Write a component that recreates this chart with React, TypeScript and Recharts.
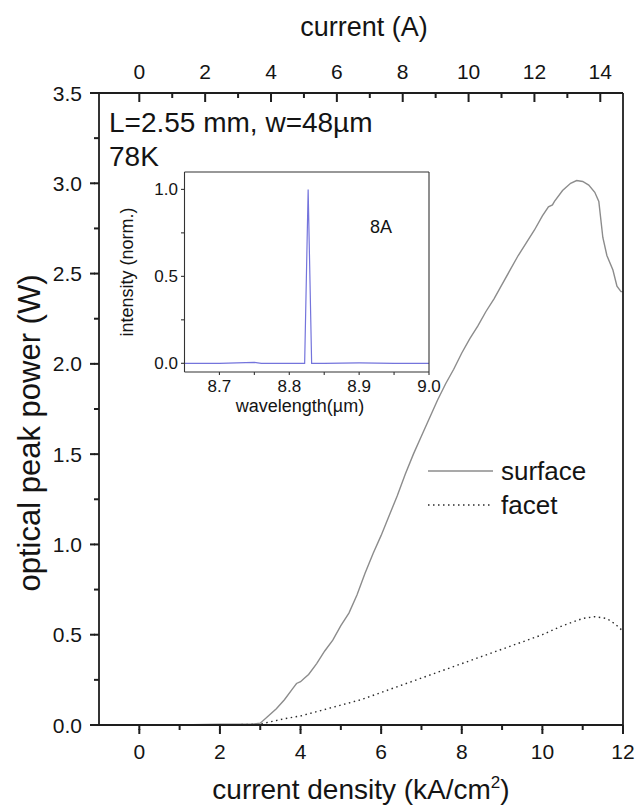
import { LineChart, Line, XAxis, YAxis } from "recharts";

// main plot: surface / facet emission vs current density
const surfaceDensity = [0.3, 1, 2, 2.8, 3.0, 3.2, 3.4, 3.6, 3.8, 3.9, 4.0, 4.1, 4.2, 4.4, 4.6, 4.8, 5.0, 5.2, 5.4, 5.6, 5.8, 6.0, 6.2, 6.4, 6.6, 6.8, 7.0, 7.2, 7.4, 7.6, 7.8, 8.0, 8.2, 8.4, 8.6, 8.8, 9.0, 9.2, 9.4, 9.6, 9.8, 10.0, 10.15, 10.25, 10.3, 10.5, 10.7, 10.85, 11.0, 11.15, 11.3, 11.4, 11.5, 11.6, 11.75, 11.85, 11.95, 12];
const surfacePower = [0, 0, 0.005, 0.005, 0.01, 0.05, 0.09, 0.14, 0.2, 0.23, 0.24, 0.26, 0.28, 0.34, 0.41, 0.47, 0.55, 0.62, 0.72, 0.84, 0.95, 1.05, 1.16, 1.27, 1.39, 1.5, 1.6, 1.7, 1.8, 1.89, 1.97, 2.06, 2.14, 2.21, 2.29, 2.36, 2.44, 2.52, 2.6, 2.67, 2.74, 2.82, 2.87, 2.88, 2.9, 2.96, 3.0, 3.015, 3.01, 2.99, 2.95, 2.9, 2.7, 2.6, 2.52, 2.43, 2.4, 2.4];

const facetDensity = [0.3, 1, 2, 3, 3.3, 3.6, 4, 4.5, 5, 5.5, 6, 6.5, 7, 7.5, 8, 8.5, 9, 9.5, 10, 10.5, 11, 11.3, 11.6, 11.8, 12];
const facetPower = [0, 0, 0, 0.005, 0.02, 0.035, 0.05, 0.08, 0.11, 0.14, 0.18, 0.22, 0.26, 0.3, 0.34, 0.38, 0.42, 0.46, 0.5, 0.55, 0.59, 0.6, 0.59, 0.56, 0.52];

const densityTicks = [0, 1, 2, 3, 4, 5, 6, 7, 8, 9, 10, 11, 12];
const currentTicks = [0, 1, 2, 3, 4, 5, 6, 7, 8, 9, 10, 11, 12, 13, 14];
const powerTicks = [0, 0.25, 0.5, 0.75, 1, 1.25, 1.5, 1.75, 2, 2.25, 2.5, 2.75, 3, 3.25, 3.5];
const densityDomain = [-1, 12];
const currentDomain = [-1.224, 14.69]; // same span, scaled by the ridge area
const powerDomain = [0, 3.5];

// inset: spectrum at 8A
const wavelength = [8.65, 8.7, 8.75, 8.76, 8.8, 8.822, 8.827, 8.832, 8.85, 8.9, 8.95, 9.0];
const intensity = [0, 0, 0.005, 0, 0, 0, 1.0, 0, 0, 0.002, 0, 0];
const wavelengthTicks = [8.7, 8.75, 8.8, 8.85, 8.9, 8.95, 9.0];
const intensityTicks = [0, 0.25, 0.5, 0.75, 1];

const surfaceData = surfaceDensity.map((x, i) => ({ x, p: surfacePower[i] }));
const facetData = facetDensity.map((x, i) => ({ x, p: facetPower[i] }));
const spectrumData = wavelength.map((x, i) => ({ x, v: intensity[i] }));

const FONT = "'Liberation Sans', Arial, sans-serif";
const INK = "#141414";
const AXIS = { stroke: "#1e1e1e", strokeWidth: 1.8 };
const TICK = { stroke: "#1e1e1e", strokeWidth: 2 };
const INSET_AXIS = { stroke: "#333", strokeWidth: 1.1 };

const isMultiple = (v: number, step: number) => Math.abs(v / step - Math.round(v / step)) < 1e-6;

// built-in tick lines are 5px (minor); majors get a 4px extension + label
const BottomTick = (props: any) => {
  const { x, y, payload } = props;
  if (payload.value % 2 !== 0) return <g />;
  return (
    <g>
      <rect x={x - 1} y={y - 1} width={2} height={5} fill="#1e1e1e" />
      <text x={x} y={y + 29} textAnchor="middle" fontSize={21} fontFamily={FONT} fill={INK}>
        {payload.value}
      </text>
    </g>
  );
};

const LeftTick = (props: any) => {
  const { x, y, payload } = props;
  if (!isMultiple(payload.value, 0.5)) return <g />;
  return (
    <g>
      <rect x={x - 4} y={y - 1} width={5} height={2} fill="#1e1e1e" />
      <text x={x - 12} y={y + 7.5} textAnchor="end" fontSize={21} fontFamily={FONT} fill={INK}>
        {payload.value.toFixed(1)}
      </text>
    </g>
  );
};

// top ticks point into the plot
const TopTick = (props: any) => {
  const { x, y, payload } = props;
  const major = payload.value % 2 === 0;
  return (
    <g>
      <rect x={x - 1} y={y} width={2} height={major ? 9 : 5} fill="#1e1e1e" />
      {major && (
        <text x={x} y={y - 14} textAnchor="middle" fontSize={21} fontFamily={FONT} fill={INK}>
          {payload.value}
        </text>
      )}
    </g>
  );
};

const InsetXTick = (props: any) => {
  const { x, y, payload } = props;
  if (!isMultiple(payload.value, 0.1)) return <g />;
  return (
    <text x={x} y={y + 17} textAnchor="middle" fontSize={17} fontFamily={FONT} fill={INK}>
      {payload.value.toFixed(1)}
    </text>
  );
};

const InsetYTick = (props: any) => {
  const { x, y, payload } = props;
  if (!isMultiple(payload.value, 0.5)) return <g />;
  return (
    <text x={x - 3} y={y + 6} textAnchor="end" fontSize={17} fontFamily={FONT} fill={INK}>
      {payload.value.toFixed(1)}
    </text>
  );
};

export default function App() {
  return (
    <div style={{ position: "absolute", left: 0, top: 0, width: 635, height: 806, background: "#fff" }}>
      <LineChart width={635} height={806} margin={{ top: 43, right: 11, bottom: 21, left: 39 }}>
        <XAxis xAxisId="bottom" dataKey="x" type="number" domain={densityDomain} ticks={densityTicks}
          allowDataOverflow height={60} tickSize={5} tickMargin={0} tickLine={TICK} tick={BottomTick}
          axisLine={AXIS} interval={0} />
        <XAxis xAxisId="top" orientation="top" dataKey="x" type="number" domain={currentDomain}
          ticks={currentTicks} allowDataOverflow height={50} tickSize={0} tickMargin={0} tickLine={false}
          tick={TopTick} axisLine={AXIS} interval={0} />
        <YAxis yAxisId="left" type="number" domain={powerDomain} ticks={powerTicks} allowDataOverflow
          width={60} tickSize={5} tickMargin={0} tickLine={TICK} tick={LeftTick} axisLine={AXIS} interval={0} />
        <YAxis yAxisId="right" orientation="right" type="number" domain={powerDomain} allowDataOverflow
          width={1} tick={false} tickLine={false} axisLine={AXIS} />

        <Line xAxisId="bottom" yAxisId="left" data={facetData} dataKey="p" type="linear" stroke="#2a2a2a"
          strokeWidth={1.4} strokeDasharray="1.5 3.5" dot={false} isAnimationActive={false} />
        <Line xAxisId="bottom" yAxisId="left" data={surfaceData} dataKey="p" type="linear" stroke="#8c8c8c"
          strokeWidth={1.4} dot={false} isAnimationActive={false} />
        <Line xAxisId="top" yAxisId="right" data={surfaceData} dataKey="p" stroke="none" dot={false}
          isAnimationActive={false} />
      </LineChart>

      <div style={{ position: "absolute", left: 120, top: 150 }}>
        <LineChart width={330} height={250} margin={{ top: 21, right: 20, bottom: 3, left: 24.5 }}>
          <XAxis dataKey="x" type="number" domain={[8.65, 9.0]} ticks={wavelengthTicks} allowDataOverflow
            height={25} tickSize={3} tickMargin={0} tickLine={INSET_AXIS} tick={InsetXTick}
            axisLine={INSET_AXIS} interval={0} />
          <XAxis xAxisId="frame" orientation="top" dataKey="x" type="number" domain={[8.65, 9.0]}
            allowDataOverflow height={1} tick={false} tickLine={false} axisLine={INSET_AXIS} />
          <YAxis type="number" domain={[-0.05, 1.1]} ticks={intensityTicks} allowDataOverflow width={40}
            tickSize={3.5} tickMargin={0} tickLine={INSET_AXIS} tick={InsetYTick} axisLine={INSET_AXIS} interval={0} />
          <YAxis yAxisId="frame" orientation="right" type="number" domain={[-0.05, 1.1]} allowDataOverflow
            width={1} tick={false} tickLine={false} axisLine={INSET_AXIS} />
          <Line data={spectrumData} dataKey="v" type="linear" stroke="#7474dc" strokeWidth={1.2}
            dot={false} isAnimationActive={false} />
          <Line xAxisId="frame" yAxisId="frame" data={spectrumData} dataKey="v" stroke="none" dot={false}
            isAnimationActive={false} />
        </LineChart>
      </div>

      <svg
        width={635}
        height={806}
        style={{ position: "absolute", left: 0, top: 0, pointerEvents: "none" }}
        fontFamily={FONT}
        fill={INK}
      >
        <text x={364} y={36} fontSize={27} textAnchor="middle">current (A)</text>
        <text x={361} y={799} fontSize={28} textAnchor="middle">
          current density (kA/cm<tspan dy={-11} fontSize={17}>2</tspan><tspan dy={11}>)</tspan>
        </text>
        <text transform="translate(40, 433) rotate(-90)" fontSize={31} textAnchor="middle">
          optical peak power (W)
        </text>
        <text x={109} y={132} fontSize={28}>L=2.55 mm, w=48µm</text>
        <text x={109} y={166} fontSize={28}>78K</text>

        <line x1={428} x2={493} y1={471} y2={471} stroke="#8c8c8c" strokeWidth={1.4} />
        <text x={501} y={480} fontSize={26}>surface</text>
        <line x1={428} x2={493} y1={505} y2={505} stroke="#2a2a2a" strokeWidth={1.4} strokeDasharray="1.5 3.5" />
        <text x={501} y={514} fontSize={26}>facet</text>

        <text transform="translate(133, 272) rotate(-90)" fontSize={18} textAnchor="middle">
          intensity (norm.)
        </text>
        <text x={300} y={412} fontSize={18} textAnchor="middle">wavelength(µm)</text>
        <text x={370} y={233} fontSize={18}>8A</text>
      </svg>
    </div>
  );
}
